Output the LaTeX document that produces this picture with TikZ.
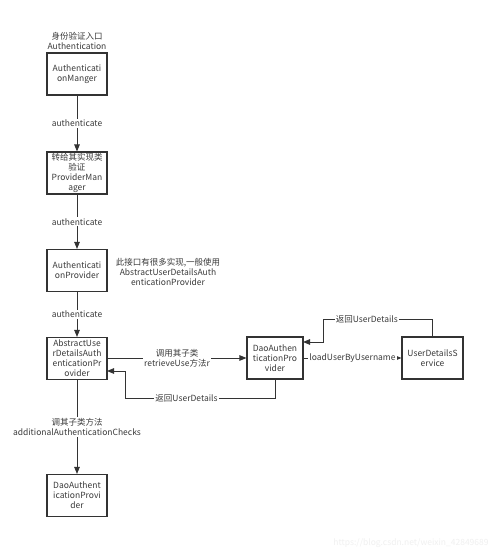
\documentclass[tikz,border=0pt]{standalone}
\usepackage{fontspec}
\setmainfont{Noto Sans CJK SC}
\usetikzlibrary{arrows.meta}
\definecolor{ink}{HTML}{333333}
\definecolor{txt}{HTML}{3A3A3A}
\tikzset{
  box/.style={draw=ink, line width=1.1pt, minimum width=60pt, minimum height=42pt, inner sep=1pt, align=center, text=txt, font=\fontsize{8.5}{10}\selectfont},
  arr/.style={draw=ink, line width=0.9pt, -{Triangle[length=7pt,width=5.5pt]}},
  lbl/.style={fill=white, inner sep=1pt, align=center, text=txt, font=\fontsize{8.5}{10}\selectfont},
  note/.style={align=center, text=txt, font=\fontsize{8.5}{10}\selectfont},
}
\begin{document}
\begin{tikzpicture}[x=1pt,y=-1pt]
\useasboundingbox[fill=white] (0,0) rectangle (500,554);
\node[note] (title) at (77,41) {身份验证入口\\Authentication};
\node[box] (b1) at (77,74) {Authenticati\\onManger};
\node[box] (b2) at (77,173) {转给其实现类\\验证\\ProviderMan\\ager};
\node[box] (b3) at (77,270.5) {Authenticati\\onProvider};
\node[note] (n1) at (168,272) {此接口有很多实现,一般使用\\AbstractUserDetailsAuth\\enticationProvider};
\node[box] (b4) at (77,358.5) {AbstractUse\\rDetailsAuth\\enticationPr\\ovider};
\node[box] (b5) at (77,495.5) {DaoAuthent\\icationProvi\\der};
\node[box, minimum width=56pt] (b6) at (275,358) {DaoAuthen\\ticationPro\\vider};
\node[box, minimum width=61pt] (b7) at (432.5,358) {UserDetailsS\\ervice};
\coordinate (r1) at (125,398);
\coordinate (r2) at (107,371);
\coordinate (t1) at (323,319);
\coordinate (t2) at (303,342);
\draw[arr] (b1) -- node[lbl]{authenticate} (b2);
\draw[arr] (b2) -- node[lbl]{authenticate} (b3);
\draw[arr] (b3) -- node[lbl]{authenticate} (b4);
\draw[arr] (b4) -- node[lbl]{调其子类方法\\additionalAuthenticationChecks} (b5);
\draw[arr] (b4.east |- b6.west) -- node[lbl]{调用其子类\\retrieveUse方法r} (b6.west);
\draw[arr] (b6) -- node[lbl]{loadUserByUsername} (b7);
\draw[draw=ink, line width=0.9pt] (b6.south) |- node[lbl, pos=0.795]{返回UserDetails} (r1);
\draw[arr] (r1) |- (r2);
\draw[draw=ink, line width=0.9pt] (b7.north) |- node[lbl, pos=0.8]{返回UserDetails} (t1);
\draw[arr] (t1) |- (t2);
\node[text=black!6, font=\fontsize{8.5}{10}\selectfont] (wm) at (411,543) {https://blog.csdn.net/weixin\_42849689};
\end{tikzpicture}
\end{document}
